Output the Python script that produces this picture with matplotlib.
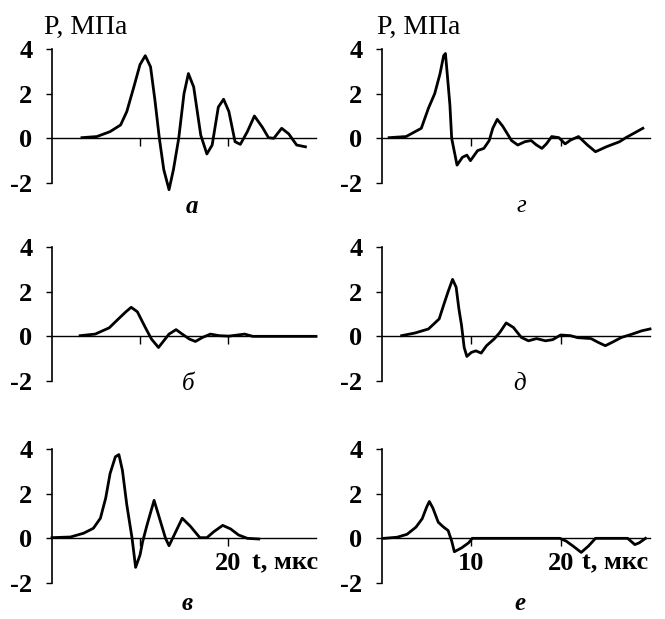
import numpy as np
import matplotlib.pyplot as plt

plt.rcParams['font.family'] = ['Liberation Serif', 'DejaVu Serif']
plt.rcParams['axes.unicode_minus'] = False

# --- data (t in мкс, P in МПа) ---
t_a = [3.4, 5.1, 6.6, 7.8, 8.5, 9.3, 10.0, 10.6, 11.2, 11.7, 12.2, 12.7, 13.3, 13.8, 14.4,
       15.0, 15.5, 16.1, 16.9, 17.6, 18.2, 18.9, 19.5, 20.1, 20.8, 21.4, 22.2, 23.0, 23.9,
       24.6, 25.2, 26.1, 26.9, 27.8, 28.8]
p_a = [0.03, 0.08, 0.3, 0.6, 1.2, 2.3, 3.3, 3.7, 3.2, 1.7, 0.0, -1.4, -2.3, -1.4, 0.0,
       2.0, 2.9, 2.3, 0.15, -0.7, -0.3, 1.4, 1.75, 1.2, -0.15, -0.27, 0.3, 1.0, 0.5,
       0.03, 0.0, 0.45, 0.2, -0.3, -0.38]

t_b = [3.2, 4.9, 6.5, 7.6, 8.4, 9.0, 9.7, 10.6, 11.3, 12.1, 12.7, 13.3, 14.1, 14.8, 15.6,
       16.3, 17.1, 18.0, 19.0, 20.1, 21.9, 22.8, 30.0]
p_b = [0.03, 0.1, 0.38, 0.8, 1.1, 1.3, 1.1, 0.4, -0.12, -0.5, -0.2, 0.1, 0.3, 0.1, -0.12,
       -0.23, -0.05, 0.1, 0.03, 0.01, 0.1, 0.0, 0.0]

t_v = [0.0, 2.1, 3.6, 4.7, 5.5, 6.1, 6.6, 7.2, 7.6, 8.0, 8.5, 9.1, 9.5, 10.0, 10.3, 10.8,
       11.6, 12.1, 12.9, 13.3, 13.8, 14.8, 15.7, 16.8, 17.6, 18.4, 19.4, 20.3, 21.2, 22.2, 23.5]
p_v = [0.03, 0.06, 0.23, 0.45, 0.9, 1.8, 2.9, 3.65, 3.75, 3.05, 1.5, 0.0, -1.3, -0.75, -0.15, 0.6,
       1.7, 1.05, 0.0, -0.33, 0.08, 0.9, 0.55, 0.03, 0.03, 0.3, 0.58, 0.42, 0.15, 0.0, -0.03]

t_g = [0.8, 2.7, 4.4, 5.2, 5.9, 6.5, 6.9, 7.1, 7.3, 7.6, 7.8, 8.1, 8.4, 9.0, 9.5, 9.9, 10.7,
       11.4, 12.0, 12.4, 12.9, 13.5, 14.5, 15.2, 16.0, 16.7, 17.3, 17.9, 18.4, 19.0, 19.8,
       20.5, 21.1, 22.0, 23.0, 23.9, 25.1, 26.6, 27.3, 28.3, 29.2]
p_g = [0.03, 0.08, 0.45, 1.35, 2.0, 2.9, 3.7, 3.8, 2.9, 1.5, 0.0, -0.6, -1.2, -0.85, -0.75, -1.0, -0.55,
       -0.45, -0.1, 0.45, 0.85, 0.55, -0.1, -0.3, -0.15, -0.1, -0.3, -0.45, -0.25, 0.08, 0.03,
       -0.25, -0.08, 0.08, -0.3, -0.6, -0.38, -0.15, 0.03, 0.25, 0.45]

t_d = [2.2, 3.7, 5.2, 6.4, 6.9, 7.4, 7.9, 8.3, 8.6, 8.9, 9.2, 9.5, 10.0, 10.5, 11.1, 11.7,
       12.6, 13.2, 13.9, 14.7, 15.6, 16.4, 17.3, 18.3, 19.1, 20.0, 21.1, 21.9, 23.4, 24.2,
       25.0, 25.9, 26.8, 28.0, 29.1, 30.0]
p_d = [0.03, 0.15, 0.33, 0.78, 1.4, 2.0, 2.55, 2.2, 1.25, 0.5, -0.5, -0.9, -0.72, -0.65, -0.75, -0.42,
       -0.1, 0.18, 0.6, 0.4, -0.05, -0.2, -0.1, -0.2, -0.15, 0.06, 0.03, -0.06, -0.1, -0.27,
       -0.42, -0.24, -0.05, 0.1, 0.25, 0.33]

t_e = [0.2, 1.7, 2.8, 3.8, 4.5, 5.0, 5.3, 5.7, 6.3, 6.9, 7.4, 7.8, 8.1, 8.9, 9.7, 10.1,
       19.9, 20.6, 21.4, 22.3, 23.1, 23.9, 27.5, 28.3, 28.8, 29.5]
p_e = [0.0, 0.05, 0.18, 0.5, 0.88, 1.4, 1.65, 1.35, 0.72, 0.5, 0.35, -0.12, -0.6, -0.43, -0.2, 0.0,
       0.0, -0.12, -0.35, -0.63, -0.35, 0.0, 0.0, -0.28, -0.2, 0.0]

y_ticks = [-2, 0, 2, 4]
y_labels = ['-2', '0', '2', '4']

W, H = 665, 619
fig = plt.figure(figsize=(W / 100, H / 100), dpi=100)

def make_ax(x0, x1, ytop, ybot):
    return fig.add_axes([x0 / W, 1 - ybot / H, (x1 - x0) / W, (ybot - ytop) / H])

# pixel boxes: left, right, top(P=4), bottom(P=-2)
panels = [
    (t_a, p_a, (52, 316, 49, 183), None),
    (t_b, p_b, (52, 316, 247, 381), None),
    (t_v, p_v, (52, 316, 449, 583), ['', '20']),
    (t_g, p_g, (382, 650, 49, 183), None),
    (t_d, p_d, (382, 650, 247, 381), None),
    (t_e, p_e, (382, 650, 449, 583), ['10', '20']),
]

for t, p, box, xl in panels:
    ax = make_ax(*box)
    ax.plot(t, p, color='black', lw=2.0, clip_on=False)
    ax.set_xlim(0, 30)
    ax.set_ylim(-2, 4)
    ax.spines['top'].set_visible(False)
    ax.spines['right'].set_visible(False)
    ax.spines['bottom'].set_position(('data', 0))
    ax.spines['bottom'].set_linewidth(1.0)
    ax.spines['left'].set_linewidth(1.2)
    ax.set_yticks(y_ticks)
    ax.set_yticklabels(y_labels, fontsize=19, fontweight='bold')
    ax.tick_params(axis='y', direction='out', length=4, width=1.0, pad=10)
    ax.set_xticks([10, 20])
    ax.tick_params(axis='x', direction='out', length=6, width=1.0, pad=4)
    if xl is None:
        ax.set_xticklabels(['', ''])
    else:
        ax.set_xticklabels(xl, fontsize=19, fontweight='bold')
        ax.text(22.7 if box[0] < 100 else 22.4, -1.1, 't, мкс', fontsize=19,
                fontweight='bold', va='center', ha='left')
    ax.patch.set_visible(False)

# axis titles
fig.text(44 / W, 1 - 27 / H, 'P, МПа', fontsize=20, ha='left', va='center')
fig.text(377 / W, 1 - 27 / H, 'P, МПа', fontsize=20, ha='left', va='center')

# panel letters
letters = [('а', 192, 206, 'bold'), ('б', 188, 384, 'normal'), ('в', 187, 603, 'bold'),
           ('г', 521, 206, 'normal'), ('д', 520, 384, 'normal'), ('е', 520, 603, 'bold')]
for s, x, y, w in letters:
    fig.text(x / W, 1 - y / H, s, fontsize=18, style='italic', fontweight=w,
             ha='center', va='center')

fig.savefig('out.png', dpi=100)
